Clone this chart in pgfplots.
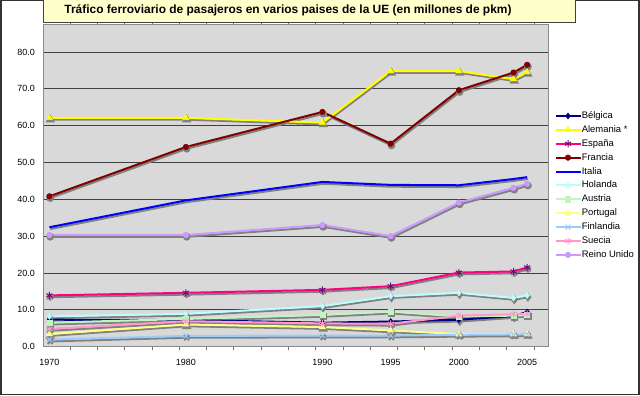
\documentclass[border=0pt]{standalone}
\usepackage{pgfplots}
\pgfplotsset{compat=1.18}
\usepackage{pgfplotstable}
\usepackage{fontspec}
\setmainfont{Liberation Sans}

\definecolor{cBel}{HTML}{000080}
\definecolor{cAle}{HTML}{FFFF00}
\definecolor{cEsp}{HTML}{FF0080}
\definecolor{cEspM}{HTML}{800080}
\definecolor{cFra}{HTML}{800000}
\definecolor{cIta}{HTML}{0000FF}
\definecolor{cHol}{HTML}{B8FFFF}
\definecolor{cAus}{HTML}{C0F5C0}
\definecolor{cPor}{HTML}{FFFF88}
\definecolor{cFin}{HTML}{99CCFF}
\definecolor{cSue}{HTML}{FF99CC}
\definecolor{cRU}{HTML}{CC99FF}
\definecolor{titlebg}{HTML}{FFFFCC}

\pgfplotstableread{
x y
1970 7.3
1980 7.2
1990 6.5
1995 6.8
2000 7.3
2004 8.3
2005 9.4
}\Bel
\pgfplotstableread{
x y
1970 62.1
1980 62.1
1990 60.8
1995 74.8
2000 74.8
2004 72.6
2005 74.5
}\Ale
\pgfplotstableread{
x y
1970 13.9
1980 14.6
1990 15.4
1995 16.4
2000 20.1
2004 20.4
2005 21.5
}\Esp
\pgfplotstableread{
x y
1970 40.8
1980 54.2
1990 63.7
1995 55.1
2000 69.6
2004 74.4
2005 76.5
}\Fra
\pgfplotstableread{
x y
1970 32.4
1980 39.7
1990 44.7
1995 43.9
2000 43.8
2004 45.5
2005 46.0
}\Ita
\pgfplotstableread{
x y
1970 8.2
1980 8.9
1990 11.0
1995 13.7
2000 14.6
2004 13.2
2005 13.9
}\Hol
\pgfplotstableread{
x y
1970 6.5
1980 7.5
1990 8.6
1995 9.5
2000 8.2
2004 8.4
2005 8.6
}\Aus
\pgfplotstableread{
x y
1970 3.4
1980 6.0
1990 5.3
1995 4.4
2000 3.4
2004 3.4
2005 3.4
}\Por
\pgfplotstableread{
x y
1970 1.9
1980 2.9
1990 3.0
1995 3.0
2000 3.2
2004 3.3
2005 3.4
}\Fin
\pgfplotstableread{
x y
1970 4.8
1980 6.9
1990 6.3
1995 6.2
2000 8.4
2004 8.8
2005 8.9
}\Sue
\pgfplotstableread{
x y
1970 30.3
1980 30.3
1990 33.0
1995 30.0
2000 39.1
2004 43.1
2005 44.2
}\RU

\begin{document}
\begin{tikzpicture}
\path[use as bounding box] (0bp,0bp) rectangle (640bp,396bp);
\draw[line width=1.4bp, black!80] (1bp,1.7bp) rectangle (639bp,395.3bp);
\begin{axis}[
  at={(43.3bp,49.4bp)}, anchor=south west,
  scale only axis, width=505bp, height=322.3bp,
  xmin=1969.55, xmax=2006.55, ymin=0, ymax=87.5,
  axis background/.style={fill=black!15},
  axis line style={black!45, line width=0.8bp},
  xtick={1970,1980,1990,1995,2000,2005},
  xticklabels={1970,1980,1990,1995,2000,2005},
  ytick={0,10,...,80},
  major tick length=0pt,
  ymajorgrids, major grid style={black!75, line width=0.8bp},
  extra x ticks={1971.5,1973.5,1975.5,1977.5,1979.5,1981.5,1983.5,1985.5,1987.5,1989.5,1991.5,1993.5,1995.5,1997.5,1999.5,2001.5,2003.5,2005.5},
  extra x tick labels={},
  extra x tick style={major tick length=3bp, tick align=outside, tick style={black!55, line width=0.6bp}, xmajorgrids=false},
  yticklabel style={/pgf/number format/fixed, /pgf/number format/fixed zerofill, /pgf/number format/precision=1, xshift=-5bp},
  /pgf/number format/assume math mode=true,
  tick label style={font=\fontsize{9}{10}\selectfont},
  xticklabel style={yshift=-9bp},
  legend style={at={(axis description cs:1,0.5)}, anchor=west, xshift=5bp,
    draw=none, fill=white, font=\fontsize{9.5}{11}\selectfont,
    row sep=4.3bp, inner sep=1bp,
    nodes={inner sep=0.3bp, text height=7bp, text depth=2bp}},
  legend cell align=left,
  legend image code/.code={
    \draw[mark repeat=2, mark phase=2, #1] plot coordinates {(0bp,0bp) (12.5bp,0bp) (25bp,0bp)};},
  every axis plot/.append style={line width=2bp},
  shadow/.style={draw=black!50, mark options={draw=black!50, fill=black!50, solid}, xshift=0.8bp, yshift=-1.8bp, forget plot},
  clip=false,
]
% shadows
\addplot[shadow, mark=diamond*, mark size=3bp] table {\Bel};
\addplot[shadow, mark=triangle*, mark size=3.5bp] table {\Ale};
\addplot[shadow, mark=asterisk, mark size=3.5bp] table {\Esp};
\addplot[shadow, mark=*, mark size=2.8bp] table {\Fra};
\addplot[shadow, mark=none] table {\Ita};
\addplot[shadow, mark=diamond*, mark size=3bp] table {\Hol};
\addplot[shadow, mark=square*, mark size=2.6bp] table {\Aus};
\addplot[shadow, mark=triangle*, mark size=3.5bp] table {\Por};
\addplot[shadow, mark=x, mark size=3.5bp] table {\Fin};
\addplot[shadow, mark=asterisk, mark size=3.5bp] table {\Sue};
\addplot[shadow, mark=*, mark size=2.8bp] table {\RU};
% series
\addplot[cBel, mark=diamond*, mark size=3bp, mark options={fill=cBel, line width=0.5bp}] table {\Bel};
\addlegendentry{Bélgica}
\addplot[cAle, mark=triangle*, mark size=3.5bp, mark options={fill=cAle, line width=0.5bp}] table {\Ale};
\addlegendentry{Alemania *}
\addplot[cEsp, mark=asterisk, mark size=3.5bp, mark options={draw=cEspM, line width=1bp}] table {\Esp};
\addlegendentry{España}
\addplot[cFra, mark=*, mark size=2.8bp, mark options={fill=cFra, line width=0.5bp}] table {\Fra};
\addlegendentry{Francia}
\addplot[cIta, mark=none] table {\Ita};
\addlegendentry{Italia}
\addplot[cHol, mark=diamond*, mark size=3bp, mark options={fill=cHol, line width=0.5bp}] table {\Hol};
\addlegendentry{Holanda}
\addplot[cAus, mark=square*, mark size=2.6bp, mark options={fill=cAus, line width=0.5bp}] table {\Aus};
\addlegendentry{Austria}
\addplot[cPor, mark=triangle*, mark size=3.5bp, mark options={fill=cPor, line width=0.5bp}] table {\Por};
\addlegendentry{Portugal}
\addplot[cFin, mark=x, mark size=3.5bp, mark options={line width=1bp}] table {\Fin};
\addlegendentry{Finlandia}
\addplot[cSue, mark=asterisk, mark size=3.5bp, mark options={line width=1bp}] table {\Sue};
\addlegendentry{Suecia}
\addplot[cRU, mark=*, mark size=2.8bp, mark options={fill=cRU, line width=0.5bp}] table {\RU};
\addlegendentry{Reino Unido}
\end{axis}
\draw[fill=titlebg, draw=black!75, line width=1bp] (43bp,373.5bp) rectangle (575bp,396.5bp);
\node[font=\bfseries\fontsize{12}{14}\selectfont, anchor=center] at (288bp,386bp) {Tráfico ferroviario de pasajeros en varios paises de la UE (en millones de pkm)};
\end{tikzpicture}
\end{document}
